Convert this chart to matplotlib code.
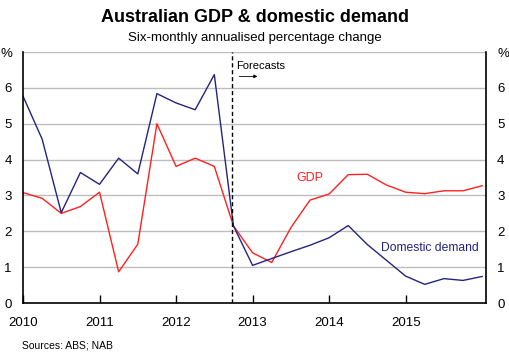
"""Australian GDP & domestic demand, six-monthly annualised"""
import pandas as pd
import matplotlib
matplotlib.use("Agg")
import matplotlib.pyplot as plt

plt.rcParams['font.family'] = ['Liberation Sans', 'DejaVu Sans']

# quarterly observations 2010Q1 .. 2016Q1
quarters = pd.period_range("2010Q1", "2016Q1", freq="Q")
gdp = [3.08, 2.92, 2.50, 2.69, 3.09, 0.87, 1.64, 5.00, 3.81, 4.04, 3.81, 2.15,
       1.40, 1.13, 2.10, 2.87, 3.04, 3.58, 3.59, 3.29, 3.09, 3.05, 3.13, 3.13, 3.27]
dom_demand = [5.77, 4.57, 2.52, 3.64, 3.31, 4.04, 3.60, 5.84, 5.58, 5.39, 6.37, 2.15,
              1.05, 1.24, 1.43, 1.61, 1.82, 2.16, 1.63, 1.19, 0.75, 0.52, 0.68, 0.63, 0.74]
forecast_start = 2012.73
year_ticks = [2010, 2011, 2012, 2013, 2014, 2015]
y_ticks = [0, 1, 2, 3, 4, 5, 6, 7]
y_labels = ['0', '1', '2', '3', '4', '5', '6', '%']

red = '#ff2020'
navy = '#24247e'

x = [q.year + (q.quarter - 1) / 4 for q in quarters]

fig = plt.figure(figsize=(5.1, 3.58), dpi=100)
ax = fig.add_axes([0.0451, 0.1536, 0.9078, 0.7011])

ax.plot(x, gdp, color=red, lw=1.0)
ax.plot(x, dom_demand, color=navy, lw=1.0)
ax.axvline(forecast_start, color='black', lw=1.0, ls=(0, (3, 2)))

ax.set_xlim(2010, 2016.05)
ax.set_ylim(0, 7)
ax.set_yticks(y_ticks)
ax.set_yticklabels(y_labels)
ax.set_xticks(year_ticks)
ax.set_xticklabels([str(y) for y in year_ticks])
ax.grid(axis='y', color='#bdbdbd', lw=1.0)
ax.set_axisbelow(True)

ax.tick_params(axis='y', length=0, pad=8, labelsize=9.5, colors='black',
               labelleft=True, labelright=True)
ax.tick_params(axis='x', direction='in', length=6, width=1, pad=10, labelsize=9.5)
for s in ['left', 'right', 'bottom']:
    ax.spines[s].set_linewidth(1.2)
ax.spines['top'].set_visible(False)

ax.text(2012.79, 6.62, 'Forecasts', fontsize=8, va='center', ha='left')
ax.annotate('', xy=(2013.1, 6.32), xytext=(2012.79, 6.32),
            arrowprops=dict(arrowstyle='-|>', lw=0.6, color='black',
                            mutation_scale=5))
ax.text(2013.57, 3.48, 'GDP', color=red, fontsize=9, va='center', ha='left')
ax.text(2014.68, 1.53, 'Domestic demand', color=navy, fontsize=8.7,
        va='center', ha='left')

fig.text(0.5, 0.952, 'Australian GDP & domestic demand', fontsize=13,
         fontweight='bold', ha='center', va='center')
fig.text(0.5, 0.893, 'Six-monthly annualised percentage change', fontsize=9.5,
         ha='center', va='center')
fig.text(0.043, 0.036, 'Sources: ABS; NAB', fontsize=7.5, ha='left', va='center')

plt.savefig('out.png', dpi=100)
